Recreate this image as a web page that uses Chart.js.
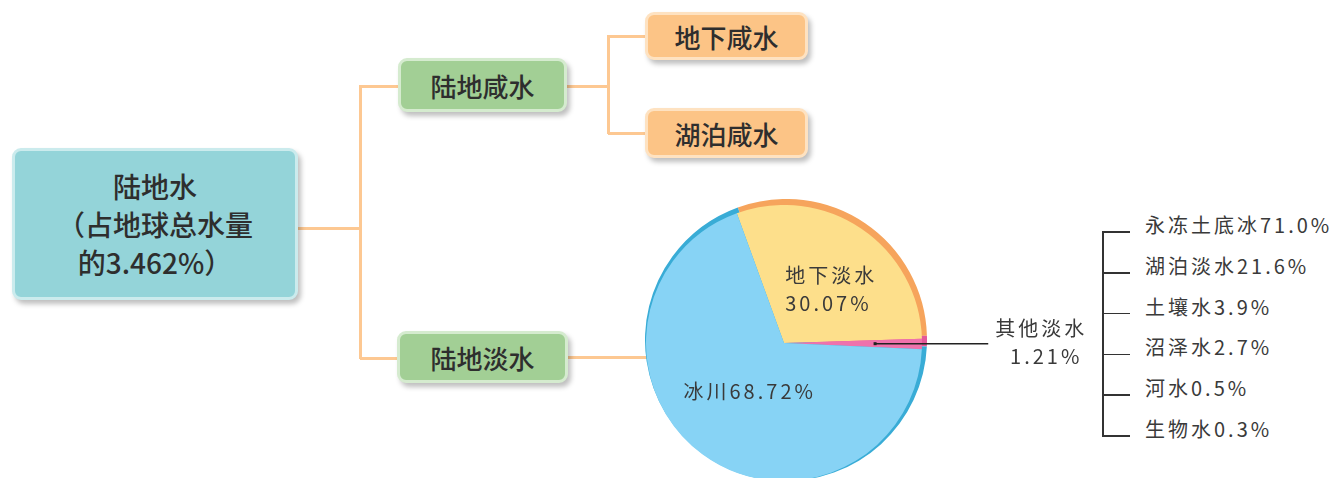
<!DOCTYPE html>
<html>
<head>
<meta charset="utf-8">
<script src="https://cdn.jsdelivr.net/npm/chart.js@4.4.1/dist/chart.umd.min.js"></script>
<style>
  html, body { margin: 0; padding: 0; background: #fff; overflow: hidden; width: 1338px; height: 478px; }
  #stage { position: relative; width: 1338px; height: 478px; font-family: "Noto Sans CJK SC", "Noto Sans", sans-serif; }
  .box { position: absolute; box-sizing: border-box; border-radius: 9px; display: flex; align-items: center; justify-content: center;
         text-align: center; color: #2e2e2e; font-size: 26px; font-weight: 500; box-shadow: 3px 4px 5px rgba(0,0,0,0.25); }
  .root { background: #94d4d9; border: 3px solid #cbebed; line-height: 38px; font-size: 28px; }
  .green { background: #a2cf95; border: 3px solid #d5ebcf; }
  .orange { background: #fcc486; border: 3px solid #fee2c1; }
  .ln { position: absolute; background: #fdc892; }
  .bk { position: absolute; background: #333; }
  .sub { position: absolute; left: 1145px; font-size: 20px; letter-spacing: 3px; color: #3a3a3a; line-height: 20px; white-space: nowrap; }
  canvas { position: absolute; }
</style>
</head>
<body>
<div id="stage">
  <canvas id="pieBack" width="282" height="282" style="left:645px;top:199px"></canvas>
  <canvas id="pieFront" width="446" height="276" style="left:646px;top:205px"></canvas>
</div>
<script>
// mind map text
const rootLines = ['陆地水', '（占地球总水量', '的3.462%）'];
const branches = ['陆地咸水', '陆地淡水'];
const saltItems = ['地下咸水', '湖泊咸水'];

// fresh water split (pie)
const categories = ['地下淡水', '其他淡水', '冰川'];
const shares = [30.07, 1.21, 68.72];

// breakdown of 其他淡水
const otherItems = ['永冻土底冰', '湖泊淡水', '土壤水', '沼泽水', '河水', '生物水'];
const otherShares = [71.0, 21.6, 3.9, 2.7, 0.5, 0.3];

const stage = document.getElementById('stage');

function el(cls, css, html) {
  const d = document.createElement('div');
  d.className = cls;
  Object.assign(d.style, css);
  if (html) d.innerHTML = html;
  stage.insertBefore(d, stage.firstChild);
  return d;
}
function hline(x1, x2, y, w, cls) { el(cls, { left: x1 + 'px', top: (y - w / 2) + 'px', width: (x2 - x1) + 'px', height: w + 'px' }); }
function vline(x, y1, y2, w, cls) { el(cls, { left: (x - w / 2) + 'px', top: y1 + 'px', width: w + 'px', height: (y2 - y1) + 'px' }); }

// boxes
el('box root', { left: '12px', top: '148px', width: '286px', height: '152px' }, rootLines.join('<br>'));
el('box green', { left: '398px', top: '58px', width: '169px', height: '54px' }, branches[0]);
el('box green', { left: '397px', top: '331px', width: '171px', height: '52px' }, branches[1]);
el('box orange', { left: '645px', top: '12px', width: '163px', height: '48px' }, saltItems[0]);
el('box orange', { left: '645px', top: '108px', width: '163px', height: '50px' }, saltItems[1]);

// connectors
hline(298, 361, 228, 3, 'ln');
vline(360, 85, 359, 3, 'ln');
hline(360, 398, 86, 3, 'ln');
hline(360, 397, 358, 3, 'ln');
hline(567, 609, 86, 3, 'ln');
vline(608, 35, 134, 3, 'ln');
hline(608, 645, 36, 3, 'ln');
hline(608, 645, 133, 3, 'ln');
hline(568, 660, 357, 3, 'ln');

// bracket list for 其他淡水
const tickTop = 232, tickGap = 40.8;
vline(1103, tickTop - 1, tickTop + tickGap * (otherItems.length - 1) + 1, 1.8, 'bk');
otherItems.forEach((name, i) => {
  const y = tickTop + tickGap * i;
  hline(1103, 1130, y, 1.8, 'bk');
  el('sub', { top: (y - 17) + 'px' }, name + otherShares[i].toFixed(1) + '%');
});

// pie label layout
const labelRadius = [0.52, 0, 0.43];
const labelShift = [7, 0, -1];
const stacked = [true, false, false];
const calloutIndex = 1;

const sliceLabels = {
  id: 'sliceLabels',
  afterDatasetsDraw(chart) {
    const ctx = chart.ctx;
    const arcs = chart.getDatasetMeta(0).data;
    ctx.save();
    ctx.font = '20px "Noto Sans CJK SC"';
    ctx.letterSpacing = '3px';
    ctx.fillStyle = '#3a3a3a';
    ctx.textBaseline = 'middle';
    arcs.forEach((arc, i) => {
      const p = arc.getProps(['x', 'y', 'startAngle', 'endAngle', 'outerRadius'], true);
      const mid = (p.startAngle + p.endAngle) / 2;
      const pct = shares[i].toFixed(2) + '%';
      if (i === calloutIndex) {
        const sx = p.x + Math.cos(mid) * p.outerRadius * 0.66;
        const sy = p.y + Math.sin(mid) * p.outerRadius * 0.66;
        const ex = p.x + p.outerRadius * 1.48;
        ctx.strokeStyle = '#222';
        ctx.lineWidth = 1.5;
        ctx.beginPath();
        ctx.moveTo(sx, sy);
        ctx.lineTo(ex, sy);
        ctx.stroke();
        ctx.fillStyle = '#222';
        ctx.fillRect(sx - 1.5, sy - 1.5, 3, 3);
        ctx.fillStyle = '#3a3a3a';
        ctx.textAlign = 'center';
        ctx.fillText(categories[i], ex + 53, sy - 15);
        ctx.fillText(pct, ex + 58, sy + 13);
        return;
      }
      const a = mid + labelShift[i] * Math.PI / 180;
      const r = p.outerRadius * labelRadius[i];
      const cx = p.x + Math.cos(a) * r;
      const cy = p.y + Math.sin(a) * r;
      if (stacked[i]) {
        const w = Math.max(ctx.measureText(categories[i]).width, ctx.measureText(pct).width);
        ctx.textAlign = 'left';
        ctx.fillText(categories[i], cx - w / 2, cy - 14);
        ctx.fillText(pct, cx - w / 2, cy + 14);
      } else {
        ctx.textAlign = 'center';
        ctx.fillText(categories[i] + pct, cx, cy);
      }
    });
    ctx.restore();
  }
};

const common = {
  responsive: false,
  animation: false,
  events: [],
  rotation: -20,
  plugins: { legend: { display: false }, tooltip: { enabled: false } }
};

// darker rim, slightly offset behind the main pie
new Chart(document.getElementById('pieBack'), {
  type: 'pie',
  data: {
    labels: categories,
    datasets: [{ data: shares, backgroundColor: ['#f6a45c', '#e4589a', '#39acd6'], borderWidth: 0, hoverOffset: 0 }]
  },
  options: common
});

new Chart(document.getElementById('pieFront'), {
  type: 'pie',
  data: {
    labels: categories,
    datasets: [{ data: shares, backgroundColor: ['#fddf8b', '#ef72ac', '#87d3f5'], borderWidth: 0, hoverOffset: 0 }]
  },
  options: Object.assign({}, common, { layout: { padding: { right: 170 } } }),
  plugins: [sliceLabels]
});
</script>
</body>
</html>
